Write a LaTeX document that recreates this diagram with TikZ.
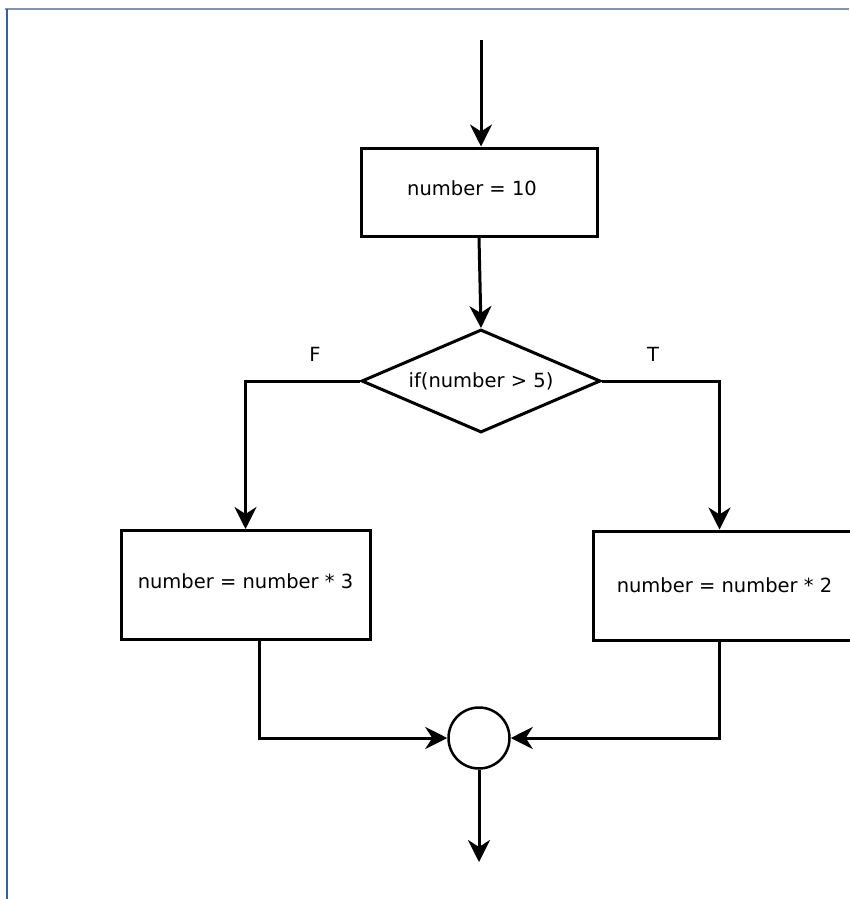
\documentclass[tikz,border=0pt]{standalone}
\usepackage{fontspec}
\setmainfont{DejaVu Sans}
\usetikzlibrary{arrows.meta,shapes.geometric}
\begin{document}
\begin{tikzpicture}[x=1pt,y=-1pt,
  every node/.style={font=\fontsize{19.5}{22}\selectfont, inner sep=0pt},
  procbox/.style={draw, line width=3pt, rectangle},
  decbox/.style={draw, line width=3pt, diamond, aspect=2.3},
  joinpt/.style={draw, line width=2.5pt, circle},
  flow/.style={line width=3pt, -{Stealth[length=22pt,width=22pt,inset=7pt]}}]
\useasboundingbox (0,0) rectangle (849,899);
\draw[line width=2pt, color={rgb,255:red,130;green,148;blue,172}] (5,9) -- (849,9);
\draw[line width=1.5pt, color={rgb,255:red,58;green,92;blue,160}] (7,9) -- (7,899);

\coordinate (start) at (481,40);
\node[procbox, minimum width=236pt, minimum height=88pt] (box1) at (479,192) {\hspace*{-14pt}\raisebox{8pt}{number = 10}};
\node[decbox, minimum width=239pt, minimum height=103pt] (dia) at (481,381) {if(number >\ 5)};
\node (lf) at (315,354) {F};
\node (lt) at (653,354) {T};
\node[procbox, minimum width=249pt, minimum height=109pt] (box3) at (245.5,585) {\raisebox{8pt}{number = number * 3}};
\node[procbox, minimum width=259pt, minimum height=109pt] (box2) at (722.5,585.5) {\hspace*{4pt}number = number * 2};
\node[joinpt, minimum size=61pt] (circ) at (479,738) {};
\coordinate (finish) at (479,862);

\draw[flow] (start) -- (start |- box1.north);
\draw[flow] (box1.south) -- (dia.north);
\draw[flow] (dia.west) -| (box3.north);
\draw[flow] (dia.east) -| ([xshift=-3pt]box2.north);
\draw[flow] ([xshift=13.5pt]box3.south) |- (circ.west);
\draw[flow] ([xshift=-3pt]box2.south) |- (circ.east);
\draw[flow] (circ.south) -- (finish);
\end{tikzpicture}
\end{document}
